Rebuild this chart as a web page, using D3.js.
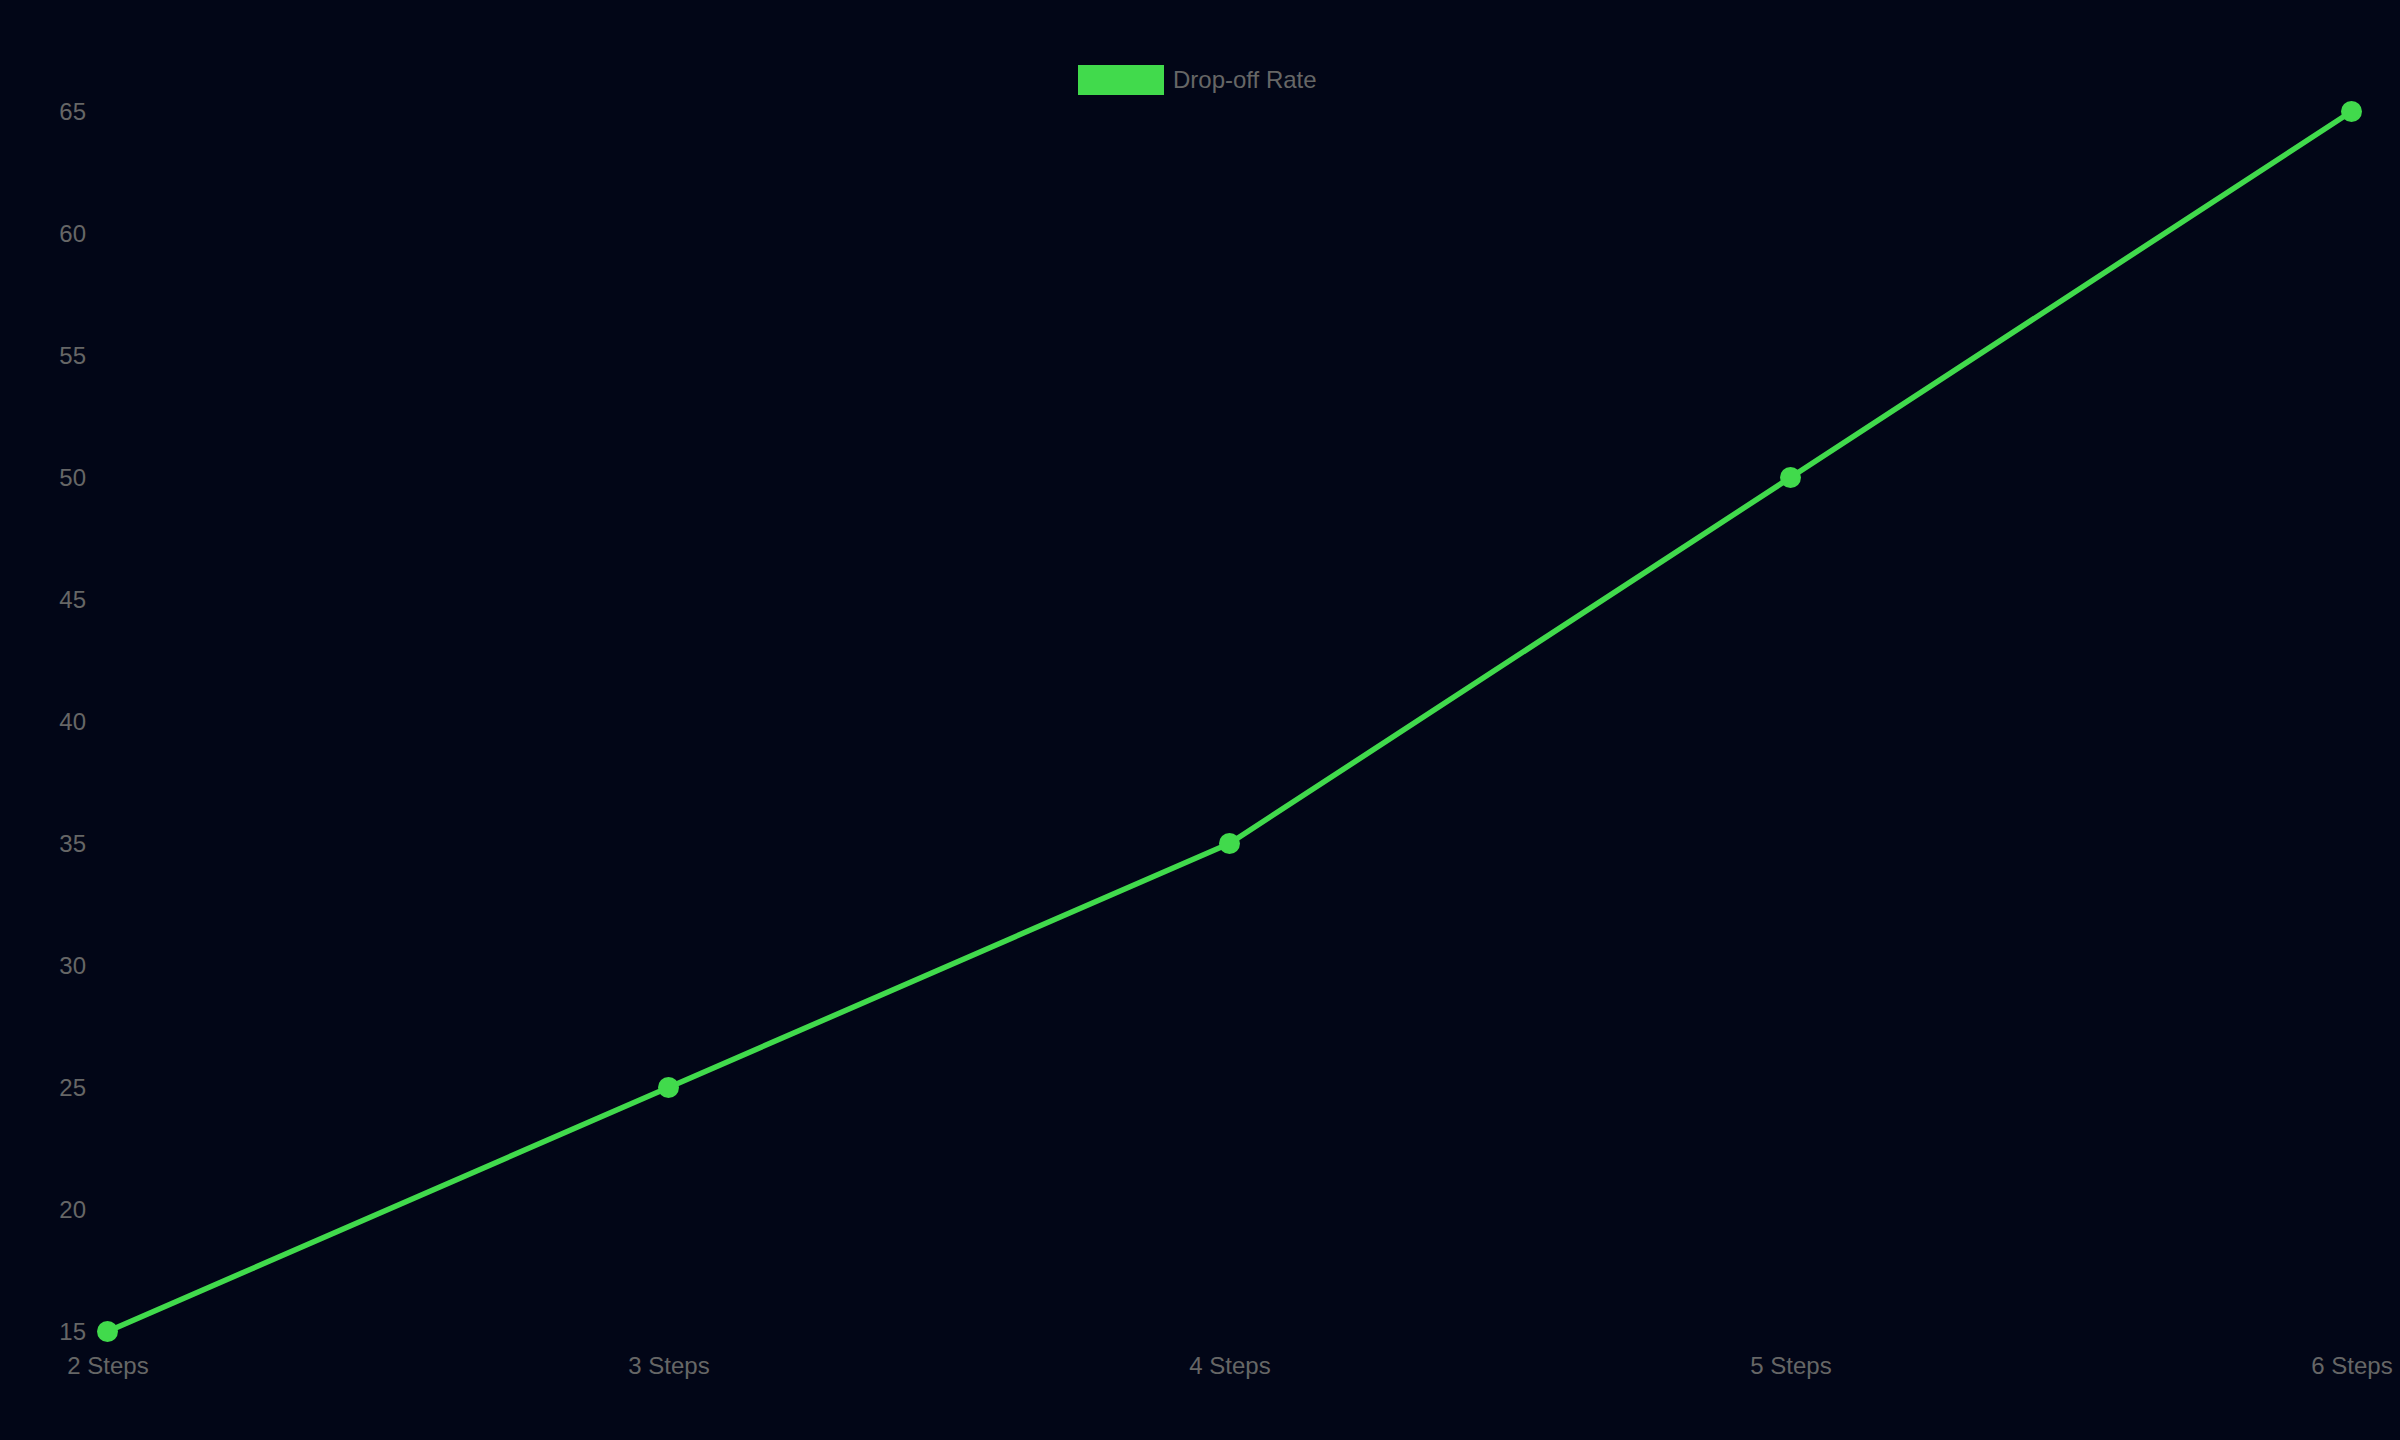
<!DOCTYPE html>
<html>
<head>
<meta charset="utf-8">
<script src="https://cdn.jsdelivr.net/npm/d3@7"></script>
<style>
  html, body { margin: 0; padding: 0; background: #020617; }
  svg { display: block; }
</style>
</head>
<body>
<div id="chart"></div>
<script>
// chart data
const categories = ["2 Steps", "3 Steps", "4 Steps", "5 Steps", "6 Steps"];
const dropoffRates = [15, 25, 35, 50, 65];
const yTicks = [15, 20, 25, 30, 35, 40, 45, 50, 55, 60, 65];
const seriesName = "Drop-off Rate";

const width = 2400, height = 1440;
const lineColor = "#41da4c";
const textColor = "#666666";
const fontFamily = "'Liberation Sans', Arial, Helvetica, sans-serif";

const svg = d3.select("#chart")
    .append("svg")
    .attr("width", width)
    .attr("height", height)
    .style("background", "#020617");

// scales
var x = d3.scalePoint()
    .domain(categories)
    .range([107.5, 2351.5]);

var y = d3.scaleLinear()
    .domain([15, 65])
    .range([1331.5, 111.5]);

// y axis labels (no lines)
const yAxis = svg.append("g")
    .attr("transform", "translate(86,0)")
    .call(d3.axisLeft(y).tickValues(yTicks).tickSize(0).tickPadding(0));
yAxis.select(".domain").remove();
yAxis.selectAll("text")
    .attr("fill", textColor)
    .style("font-family", fontFamily)
    .style("font-size", "24px");

// x axis labels
const xAxis = svg.append("g")
    .attr("transform", "translate(0,1357)")
    .call(d3.axisBottom(x).tickSize(0).tickPadding(0));
xAxis.select(".domain").remove();
xAxis.selectAll("text")
    .attr("fill", textColor)
    .style("font-family", fontFamily)
    .style("font-size", "24px");

// line
const line = d3.line()
    .x((d, i) => x(categories[i]))
    .y(d => y(d));

svg.append("path")
    .datum(dropoffRates)
    .attr("d", line)
    .attr("fill", "none")
    .attr("stroke", lineColor)
    .attr("stroke-width", 5.5)
    .attr("stroke-linejoin", "round");

// points
svg.append("g")
    .selectAll("circle")
    .data(dropoffRates)
    .enter()
    .append("circle")
        .attr("cx", (d, i) => x(categories[i]))
        .attr("cy", d => y(d))
        .attr("r", 10.5)
        .attr("fill", lineColor);

// legend
const legend = svg.append("g");
legend.append("rect")
    .attr("x", 1078)
    .attr("y", 65)
    .attr("width", 86)
    .attr("height", 30)
    .attr("fill", lineColor);
legend.append("text")
    .attr("x", 1173)
    .attr("y", 80)
    .attr("dy", "0.35em")
    .attr("fill", textColor)
    .style("font-family", fontFamily)
    .style("font-size", "24px")
    .text(seriesName);
</script>
</body>
</html>
